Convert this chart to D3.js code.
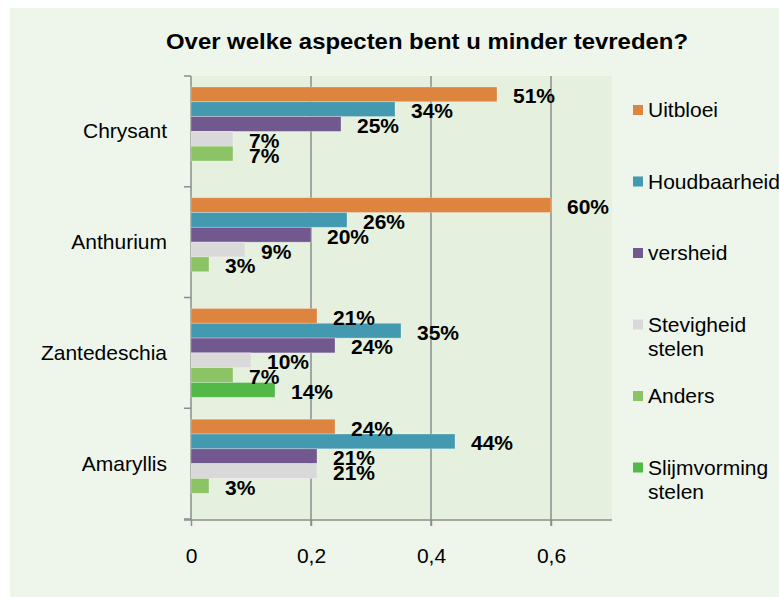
<!DOCTYPE html>
<html>
<head>
<meta charset="utf-8">
<script src="https://cdn.jsdelivr.net/npm/d3@7"></script>
<style>
  body { margin: 0; background: #fff; }
  text { font-family: "Liberation Sans", Arial, sans-serif; }
</style>
</head>
<body>
<script>
var categories = ['Chrysant', 'Anthurium', 'Zantedeschia', 'Amaryllis'];
var seriesNames = ['Uitbloei', 'Houdbaarheid', 'versheid', 'Stevigheid stelen', 'Anders', 'Slijmvorming stelen'];
var uitbloei = [0.51, 0.60, 0.21, 0.24];
var houdbaarheid = [0.34, 0.26, 0.35, 0.44];
var versheid = [0.25, 0.20, 0.24, 0.21];
var stevigheid = [0.07, 0.09, 0.10, 0.21];
var anders = [0.07, 0.03, 0.07, 0.03];
var slijmvorming = [0, 0, 0.14, 0];
var xTicks = [0, 0.2, 0.4, 0.6];
var colors = ['#DD843F', '#4399B0', '#71588F', '#D9D9D9', '#8CC465', '#52B848'];

var seriesValues = [uitbloei, houdbaarheid, versheid, stevigheid, anders, slijmvorming];

var W = 779, H = 597;
var plotLeft = 191, plotRight = 611, plotTop = 76, plotBottom = 519;
var fontSize = '21px';

var svg = d3.select('body').append('svg')
    .attr('width', W)
    .attr('height', H);

// chart background
svg.append('rect')
    .attr('x', 10).attr('y', 8)
    .attr('width', W - 10).attr('height', H - 8)
    .style('fill', '#EEF6EC');

var x = d3.scaleLinear().domain([0, 0.7]).range([plotLeft, plotRight]);
var y0 = d3.scaleBand().domain(categories).range([plotTop, plotBottom]);
var y1 = d3.scaleBand().domain(seriesNames).range([0, y0.bandwidth()]).paddingOuter(0.74);

// plot area
svg.append('rect')
    .attr('x', plotLeft).attr('y', plotTop)
    .attr('width', plotRight + 1 - plotLeft).attr('height', plotBottom - plotTop)
    .style('fill', '#E5F0DF');

// gridlines
svg.selectAll('.grid')
    .data(xTicks.slice(1))
    .enter().append('line')
    .attr('class', 'grid')
    .attr('x1', function(d) { return x(d); })
    .attr('x2', function(d) { return x(d); })
    .attr('y1', plotTop)
    .attr('y2', plotBottom + 7)
    .style('stroke', '#8C8C8C')
    .style('stroke-width', 1.5);

// x axis
var xAxis = svg.append('g')
    .attr('transform', 'translate(0,' + (plotBottom + 1) + ')')
    .call(d3.axisBottom(x).tickValues(xTicks).tickSize(6).tickSizeOuter(0)
        .tickFormat(function(d) { return d === 0 ? '0' : String(d).replace('.', ','); }));
xAxis.select('.domain').attr('d', 'M' + (plotLeft - 7) + ',0H' + (plotRight + 1)).style('stroke', '#8C8C8C').style('stroke-width', 1.5);
xAxis.selectAll('.tick line').style('stroke', '#8C8C8C').style('stroke-width', 1.5);
xAxis.selectAll('.tick text')
    .attr('y', 0).attr('dy', 0)
    .attr('transform', 'translate(0,43)')
    .style('font-size', fontSize)
    .style('font-family', '"Liberation Sans", Arial, sans-serif')
    .style('fill', '#000');

// y axis
svg.append('line')
    .attr('x1', plotLeft).attr('x2', plotLeft)
    .attr('y1', plotTop).attr('y2', plotBottom + 1)
    .style('stroke', '#8C8C8C')
    .style('stroke-width', 1.5);
var bounds = categories.map(function(c) { return y0(c); }).concat([plotBottom]);
svg.selectAll('.ytick')
    .data(bounds)
    .enter().append('line')
    .attr('class', 'ytick')
    .attr('x1', plotLeft - 7).attr('x2', plotLeft)
    .attr('y1', function(d) { return d; })
    .attr('y2', function(d) { return d; })
    .style('stroke', '#8C8C8C')
    .style('stroke-width', 1.5);

svg.selectAll('.cat')
    .data(categories)
    .enter().append('text')
    .attr('class', 'cat')
    .attr('x', 167)
    .attr('y', function(d) { return y0(d) + y0.bandwidth() / 2 + 7; })
    .attr('text-anchor', 'end')
    .style('font-size', fontSize)
    .text(function(d) { return d; });

// bars
var barData = [];
seriesNames.forEach(function(s, si) {
    categories.forEach(function(c, ci) {
        barData.push({ series: s, cat: c, value: seriesValues[si][ci], color: colors[si] });
    });
});

svg.selectAll('.bar')
    .data(barData.filter(function(d) { return d.value > 0; }))
    .enter().append('rect')
    .attr('class', 'bar')
    .attr('x', x(0))
    .attr('y', function(d) { return y0(d.cat) + y1(d.series); })
    .attr('width', function(d) { return x(d.value) - x(0); })
    .attr('height', y1.bandwidth())
    .style('fill', function(d) { return d.color; })
    .style('stroke', 'rgba(255,255,255,0.35)')
    .style('stroke-width', 0.8);

svg.selectAll('.lbl')
    .data(barData.filter(function(d) { return d.value > 0; }))
    .enter().append('text')
    .attr('class', 'lbl')
    .attr('x', function(d) { return x(d.value) + 16; })
    .attr('y', function(d) { return y0(d.cat) + y1(d.series) + y1.bandwidth() / 2 + 9; })
    .style('font-size', fontSize)
    .style('font-weight', 'bold')
    .text(function(d) { return Math.round(d.value * 100) + '%'; });

// title
svg.append('text')
    .attr('x', 427)
    .attr('y', 49)
    .attr('text-anchor', 'middle')
    .attr('textLength', 522)
    .attr('lengthAdjust', 'spacingAndGlyphs')
    .style('font-size', '22px')
    .style('font-weight', 'bold')
    .text('Over welke aspecten bent u minder tevreden?');

// legend
var legend = svg.selectAll('.legend')
    .data(seriesNames)
    .enter().append('g')
    .attr('class', 'legend')
    .attr('transform', function(d, i) { return 'translate(633,' + (110 + i * 71.5) + ')'; });

legend.append('rect')
    .attr('x', 0).attr('y', -5)
    .attr('width', 10).attr('height', 10)
    .style('fill', function(d, i) { return colors[i]; });

legend.append('text')
    .attr('x', 15)
    .attr('y', 7)
    .style('font-size', fontSize)
    .each(function(d) {
        var words = d.split(' ');
        var t = d3.select(this);
        words.forEach(function(w, j) {
            t.append('tspan')
                .attr('x', 15)
                .attr('dy', j === 0 ? 0 : 24)
                .text(w);
        });
    });
</script>
</body>
</html>
